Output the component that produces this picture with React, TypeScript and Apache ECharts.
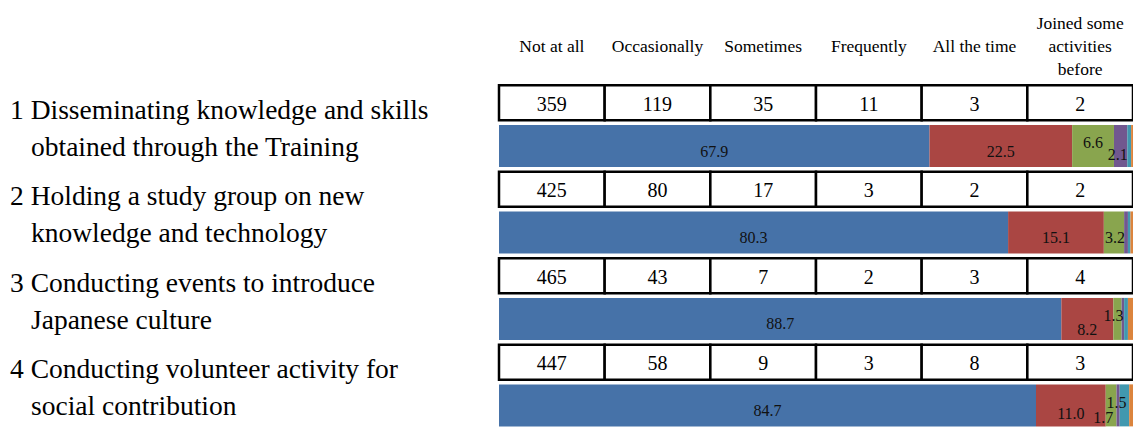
import React, { useEffect, useRef } from "react";
import * as echarts from "echarts";

// ---- data ----
const columns = ["Not at all", "Occasionally", "Sometimes", "Frequently", "All the time", "Joined some\nactivities\nbefore"];
const itemNumbers = ["1", "2", "3", "4"];
const itemLine1 = [
  "Disseminating knowledge and skills",
  "Holding a study group on new",
  "Conducting events to introduce",
  "Conducting volunteer activity for",
];
const itemLine2 = [
  "obtained through the Training",
  "knowledge and technology",
  "Japanese culture",
  "social contribution",
];
// counts per item (table rows)
const countsItem1 = [359, 119, 35, 11, 3, 2];
const countsItem2 = [425, 80, 17, 3, 2, 2];
const countsItem3 = [465, 43, 7, 2, 3, 4];
const countsItem4 = [447, 58, 9, 3, 8, 3];
// percentages per answer (bars), items 1..4
const pctNotAtAll = [67.9, 80.3, 88.7, 84.7];
const pctOccasionally = [22.5, 15.1, 8.2, 11.0];
const pctSometimes = [6.6, 3.2, 1.3, 1.7];
const pctFrequently = [2.1, 0.6, 0.4, 0.5];
const pctAllTheTime = [0.6, 0.4, 0.6, 1.5];
const pctJoined = [0.3, 0.4, 0.8, 0.6];

// ---- styles ----
const FONT = '"Liberation Serif", "Times New Roman", serif';
const colors = ["#4672A8", "#AA4643", "#89A54E", "#71588F", "#4198AF", "#DB843D"];
// label offsets [series][item]
const labelOffsets: number[][][] = [
  [[0, 6], [0, 5], [0, 5], [0, 5]],
  [[0, 6], [0, 5], [0, 11], [0, 8]],
  [[0, -3], [1, 5], [-4, -3], [-8, 12]],
  [[-3, 9], [0, 0], [0, 0], [0, 0]],
  [[0, 0], [0, 0], [0, 0], [-8, -3]],
  [[0, 0], [0, 0], [0, 0], [0, 0]],
];

export default function App() {
  const ref = useRef<HTMLDivElement>(null);
  useEffect(() => {
    if (!ref.current) return;
    const chart = echarts.init(ref.current, null, { renderer: "svg" });
    const counts = [countsItem1, countsItem2, countsItem3, countsItem4];
    const pcts = [pctNotAtAll, pctOccasionally, pctSometimes, pctFrequently, pctAllTheTime, pctJoined];
    const rowCats: string[] = [];
    itemNumbers.forEach((n) => {
      rowCats.push("table" + n);
      rowCats.push("bar" + n);
    });
    const tableData: number[][] = [];
    counts.forEach((row, i) => row.forEach((v, j) => tableData.push([j, 2 * i, v])));

    const barSeries = pcts.map((arr, s) => {
      const data: any[] = [];
      arr.forEach((v, i) => {
        data.push("-");
        data.push({
          value: v,
          label: { show: v >= 1, offset: labelOffsets[s][i] },
        });
      });
      return {
        type: "bar",
        name: columns[s],
        stack: "total",
        xAxisIndex: 0,
        yAxisIndex: 0,
        barWidth: 42,
        itemStyle: { color: colors[s] },
        label: {
          position: "inside",
          fontFamily: FONT,
          fontSize: 16,
          color: "#111",
          formatter: (p: any) => Number(p.value).toFixed(1),
        },
        data,
      };
    });

    chart.setOption({
      animation: false,
      backgroundColor: "#fff",
      grid: { left: 499, top: 81.125, width: 638, height: 350 },
      xAxis: [
        { type: "value", min: 0, max: 100, show: false },
        {
          type: "category",
          position: "top",
          data: columns,
          axisLine: { show: false },
          axisTick: { show: false },
          splitLine: { show: false },
          axisLabel: {
            interval: 0,
            margin: 35,
            verticalAlign: "middle",
            lineHeight: 23,
            fontSize: 17.5,
            fontFamily: FONT,
            color: "#000",
          },
        },
      ],
      yAxis: [
        { type: "category", data: rowCats, inverse: true, show: false },
        {
          type: "category",
          data: itemNumbers,
          inverse: true,
          position: "left",
          axisLine: { show: false },
          axisTick: { show: false },
          splitLine: { show: false },
          axisLabel: {
            interval: 0,
            align: "left",
            verticalAlign: "middle",
            margin: 489,
            padding: [7, 0, 0, 0],
            formatter: (val: string, idx: number) =>
              `{a|${val} ${itemLine1[idx]}}\n{p| }{a|${itemLine2[idx]}}`,
            rich: {
              a: { fontSize: 27.5, fontFamily: FONT, color: "#000", lineHeight: 37 },
              p: { width: 21, fontSize: 27.5, fontFamily: FONT, lineHeight: 37 },
            },
          },
        },
      ],
      series: [
        ...barSeries,
        {
          type: "custom",
          xAxisIndex: 1,
          yAxisIndex: 0,
          encode: { x: 0, y: 1 },
          data: tableData,
          z: 5,
          renderItem: (params: any, api: any) => {
            const c = api.coord([api.value(0), api.value(1)]);
            const s = api.size([1, 1]);
            const w = s[0];
            const h = 35;
            return {
              type: "group",
              children: [
                {
                  type: "rect",
                  shape: { x: c[0] - w / 2, y: c[1] - h / 2, width: w, height: h },
                  style: { fill: "#fff", stroke: "#000", lineWidth: 2.5 },
                },
                {
                  type: "text",
                  style: {
                    text: String(api.value(2)),
                    x: c[0],
                    y: c[1] + 1,
                    align: "center",
                    verticalAlign: "middle",
                    font: `20px ${FONT}`,
                    fill: "#000",
                  },
                },
              ],
            };
          },
        },
      ],
    });
    return () => chart.dispose();
  }, []);
  return (
    <div
      ref={ref}
      style={{ position: "absolute", left: 0, top: 0, width: 1133, height: 427, background: "#fff" }}
    />
  );
}
